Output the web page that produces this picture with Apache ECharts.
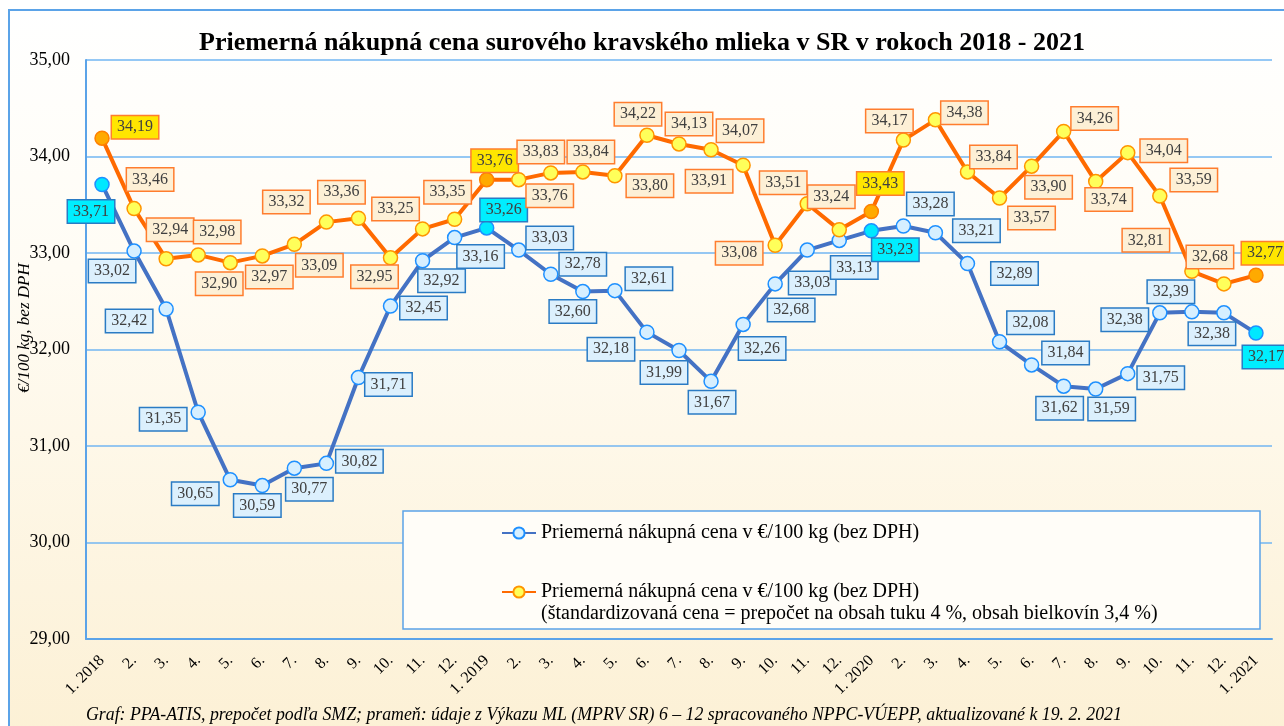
<!DOCTYPE html>
<html>
<head>
<meta charset="UTF-8">
<title>Priemerná nákupná cena mlieka</title>
<script src="https://cdn.jsdelivr.net/npm/echarts@6/dist/echarts.min.js"></script>
<style>
	html, body { margin: 0; padding: 0; background: #fff; }
	#main { width: 1284px; height: 726px; }
</style>
</head>
<body>
<div id="main"></div>
<script>
	// mesiace 1/2018 - 1/2021
	var mesiace = ['1. 2018','2.','3.','4.','5.','6.','7.','8.','9.','10.','11.','12.',
		'1. 2019','2.','3.','4.','5.','6.','7.','8.','9.','10.','11.','12.',
		'1. 2020','2.','3.','4.','5.','6.','7.','8.','9.','10.','11.','12.',
		'1. 2021'];

	// priemerna nakupna cena v €/100 kg (bez DPH)
	var cenaBezDph = [33.71,33.02,32.42,31.35,30.65,30.59,30.77,30.82,31.71,32.45,32.92,33.16,
		33.26,33.03,32.78,32.60,32.61,32.18,31.99,31.67,32.26,32.68,33.03,33.13,
		33.23,33.28,33.21,32.89,32.08,31.84,31.62,31.59,31.75,32.38,32.39,32.38,
		32.17];

	// standardizovana cena (tuk 4 %, bielkoviny 3,4 %)
	var cenaStandard = [34.19,33.46,32.94,32.98,32.90,32.97,33.09,33.32,33.36,32.95,33.25,33.35,
		33.76,33.76,33.83,33.84,33.80,34.22,34.13,34.07,33.91,33.08,33.51,33.24,
		33.43,34.17,34.38,33.84,33.57,33.90,34.26,33.74,34.04,33.59,32.81,32.68,
		32.77];

	var januarIdx = [0, 12, 24, 36];

	var yTicks = [29, 30, 31, 32, 33, 34, 35];

	// posun popiskov od bodu (px)
	var posunModra = [[-11,27],[-22,20],[-37,12],[-35,7],[-35,14],[-5,20],[15,21],[33,-2],[30,7],[33,2],[19,20],[26,19],
		[17,-18],[31,-12],[32,-10],[-10,20],[34,-12],[-36,17],[-15,22],[1,21],[19,24],[16,26],[5,33],[15,27],
		[24,19],[27,-22],[41,-2],[47,10],[31,-19],[34,-12],[-4,22],[16,20],[33,4],[-35,7],[-21,-20],[-12,21],
		[10,24]];
	var posunOranz = [[33,-11],[16,-29],[4,-29],[19,-23],[-11,21],[7,21],[25,21],[-40,-20],[-17,-26],[-16,19],[-27,-20],[-7,-27],
		[8,-19],[31,16],[-10,-21],[8,-20],[35,10],[-9,-21],[10,-20],[29,-19],[-34,16],[-36,8],[-24,-21],[-8,-33],
		[9,-28],[-14,-19],[29,-7],[26,-15],[32,20],[17,21],[31,-13],[13,18],[36,-2],[34,-16],[-46,-31],[-14,-27],
		[9,-22]];

	var font = '"Liberation Serif", "Times New Roman", serif';
	var meno1 = 'Priemerná nákupná cena v €/100 kg (bez DPH)';
	var meno2 = 'Priemerná nákupná cena v €/100 kg (bez DPH)\n(štandardizovaná cena = prepočet na obsah tuku 4 %, obsah bielkovín 3,4 %)';

	function ciarka(v){
		return v.toFixed(2).replace('.', ',');
	}

	function body(hodnoty, posun, farby){
		var out = [];
		for (var i = 0; i < hodnoty.length; i++) {
			var jan = januarIdx.indexOf(i) >= 0;
			out.push({
				value: hodnoty[i],
				itemStyle: jan ? {color: farby.janFill, borderColor: farby.janBorder} : undefined,
				label: {
					offset: posun[i],
					backgroundColor: jan ? farby.janLabel : farby.label,
					borderColor: farby.labelBorder
				}
			});
		}
		return out;
	}

	var myChart = echarts.init(document.getElementById('main'));

	var labelZaklad = {
		show: true,
		position: 'inside',
		align: 'center',
		verticalAlign: 'middle',
		formatter: function(p){ return ciarka(p.value); },
		fontFamily: font,
		fontSize: 16,
		color: '#404040',
		borderWidth: 1.5,
		padding: [3, 5, 2, 5],
		lineHeight: 17
	};

	var option = {
		backgroundColor: '#ffffff',
		animation: false,
		title: {
			text: 'Priemerná nákupná cena surového kravského mlieka v SR v rokoch 2018 - 2021',
			left: 'center',
			top: 25,
			textStyle: {fontFamily: font, fontSize: 26, fontWeight: 'bold', color: '#000'}
		},
		grid: {left: 86, right: 12, top: 60, bottom: 87},
		legend: [
			{
				data: [meno1], left: 501, top: 522, padding: 0,
				itemWidth: 34, itemHeight: 14,
				textStyle: {fontFamily: font, fontSize: 20, color: '#000', lineHeight: 22}
			},
			{
				// prazdny riadok hore, aby ikona sedela pri prvom riadku
				data: [meno2], left: 501, top: 559, padding: 0,
				itemWidth: 34, itemHeight: 14,
				formatter: function(n){ return '\n' + n; },
				textStyle: {fontFamily: font, fontSize: 20, color: '#000', lineHeight: 22}
			}
		],
		xAxis: {
			type: 'category',
			data: mesiace,
			boundaryGap: true,
			axisLine: {lineStyle: {color: '#5ba3e8', width: 2}},
			axisTick: {show: false},
			axisLabel: {rotate: 45, interval: 0, margin: 19, fontFamily: font, fontSize: 16, color: '#000'}
		},
		yAxis: {
			type: 'value',
			min: yTicks[0],
			max: yTicks[yTicks.length - 1],
			interval: 1,
			axisLine: {show: true, lineStyle: {color: '#5ba3e8', width: 2}},
			axisTick: {show: false},
			splitLine: {lineStyle: {color: '#72b6f2', width: 1.5}},
			axisLabel: {margin: 16, fontFamily: font, fontSize: 18, color: '#000', formatter: function(v){ return ciarka(v); }}
		},
		graphic: [
			{
				type: 'rect', z: -10,
				shape: {x: 9, y: 10, width: 1300, height: 740},
				style: {
					fill: new echarts.graphic.LinearGradient(0, 0, 0, 1, [
						{offset: 0, color: '#ffffff'},
						{offset: 0.35, color: '#fffcf4'},
						{offset: 1, color: '#fcf0d4'}
					]),
					stroke: '#5ba3e8', lineWidth: 2
				}
			},
			{
				type: 'rect', z: 1,
				shape: {x: 403, y: 511, width: 857, height: 118},
				style: {fill: '#fffdf8', stroke: '#5ba3e8', lineWidth: 1.5}
			},
			{
				type: 'text', z: 5,
				x: 25, y: 328, rotation: Math.PI / 2,
				style: {text: '€/100 kg, bez DPH', font: 'italic 17px ' + font, fill: '#000', align: 'center', verticalAlign: 'middle'}
			},
			{
				type: 'text', z: 5,
				x: 86, y: 715,
				style: {text: 'Graf: PPA-ATIS, prepočet podľa SMZ; prameň: údaje z Výkazu ML (MPRV SR) 6 – 12 spracovaného NPPC-VÚEPP, aktualizované k 19. 2. 2021',
					font: 'italic 17.8px ' + font, fill: '#000', align: 'left', verticalAlign: 'middle'}
			}
		],
		series: [
			{
				name: meno1,
				type: 'line',
				symbol: 'circle',
				symbolSize: 14,
				showAllSymbol: true,
				lineStyle: {color: '#4472c4', width: 4},
				itemStyle: {color: '#d6efff', borderColor: '#1e90ff', borderWidth: 1.5},
				label: labelZaklad,
				data: body(cenaBezDph, posunModra, {
					janFill: '#00e8ff', janBorder: '#1e90ff',
					label: '#dcf0fd', janLabel: '#00eeff', labelBorder: '#2a7bc4'
				})
			},
			{
				name: meno2,
				type: 'line',
				symbol: 'circle',
				symbolSize: 14,
				showAllSymbol: true,
				lineStyle: {color: '#ff6a00', width: 4},
				itemStyle: {color: '#ffff5a', borderColor: '#ff9500', borderWidth: 1.5},
				label: labelZaklad,
				data: body(cenaStandard, posunOranz, {
					janFill: '#ffaa00', janBorder: '#ff8000',
					label: '#fdf0d6', janLabel: '#ffe600', labelBorder: '#ff7d2e'
				})
			}
		]
	};

	myChart.setOption(option);
</script>
</body>
</html>
